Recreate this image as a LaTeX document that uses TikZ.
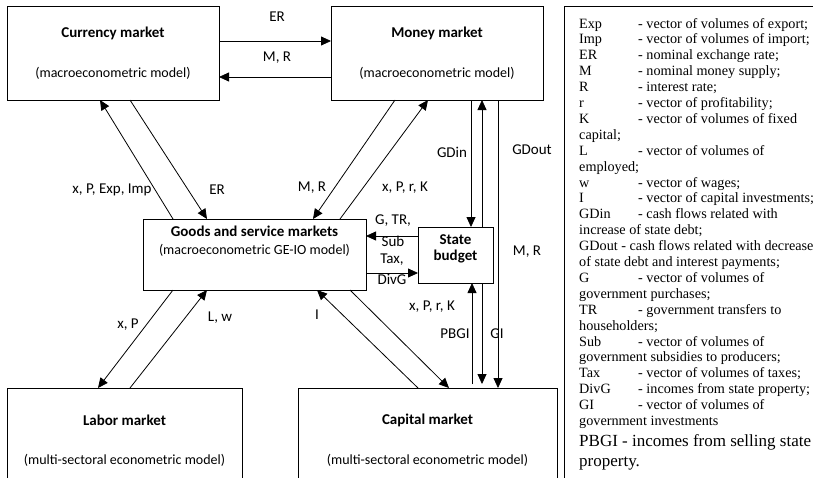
\documentclass[tikz,border=0pt]{standalone}
\usepackage{fontspec}
\setmainfont{Carlito}
\newfontfamily\legfont{Liberation Serif}
\usetikzlibrary{arrows.meta,calc}
\begin{document}
\begin{tikzpicture}[x=1pt,y=-1pt,
 box/.style={draw, line width=1pt, inner sep=0pt, outer sep=0pt},
 conn/.style={line width=0.8pt},
 arr/.style={conn, -{Triangle[length=10pt,width=9pt]}},
 lbl/.style={font=\fontsize{15}{17}\selectfont, inner sep=0pt},
 ttl/.style={font=\fontsize{15}{17}\selectfont\bfseries, inner sep=0pt},
 subt/.style={font=\fontsize{14}{16}\selectfont, inner sep=0pt},
 leg/.style={font=\legfont\fontsize{14.2}{16}\selectfont, inner sep=0pt, anchor=base west},
 legbig/.style={font=\legfont\fontsize{17}{19}\selectfont, inner sep=0pt, anchor=base west},
]
\useasboundingbox (0,0) rectangle (813,477);
\clip (0,0) rectangle (813,477);

% boxes
\node[box, minimum width=212pt, minimum height=94pt] (cur) at (113,53) {};
\node[box, minimum width=212pt, minimum height=94pt] (mon) at (437,53) {};
\node[box, minimum width=223pt, minimum height=71pt] (goods) at (254.5,254.5) {};
\node[box, minimum width=75pt, minimum height=56pt] (state) at (455.5,255) {};
\node[box, minimum width=235pt, minimum height=112pt] (labor) at (124.5,444) {};
\node[box, minimum width=259pt, minimum height=112pt] (cap) at (427.5,444) {};
\node[draw, line width=0.8pt, minimum width=260pt, minimum height=480pt, inner sep=0pt, outer sep=0pt] (legbox) at (694,246) {};

% box texts
\node[ttl] (curT) at (113,33) {Currency market};
\node[subt] (curS) at (113,73) {(macroeconometric model)};
\node[ttl] (monT) at (437,33) {Money market};
\node[subt] (monS) at (437,73) {(macroeconometric model)};
\node[ttl] (goodsT) at (254.5,231) {Goods and service markets};
\node[subt] (goodsS) at (254.5,250) {(macroeconometric GE-IO model)};
\node[ttl, align=center] (stateT) at (455.5,249) {State\\[-1pt]budget};
\node[ttl] (laborT) at (124.5,420) {Labor market};
\node[subt] (laborS) at (124.5,460) {(multi-sectoral econometric model)};
\node[ttl] (capT) at (427.5,420) {Capital market};
\node[subt] (capS) at (427.5,460) {(multi-sectoral econometric model)};

% top row connectors
\draw[arr] ([yshift=-35pt]cur.north east) -- ([yshift=-35pt]mon.north west);
\draw[arr] ([yshift=-71pt]mon.north west) -- ([yshift=-71pt]cur.north east);
\node[lbl] (l1) at (277,17) {ER};
\node[lbl] (l2) at (277,58) {M, R};

% currency <-> goods
\draw[arr] ([xshift=30pt]goods.north west) -- ([xshift=93pt]cur.south west);
\draw[arr] ([xshift=123pt]cur.south west) -- ([xshift=64pt]goods.north west);
\node[lbl] (l3) at (112,190) {x, P, Exp, Imp};
\node[lbl] (l4) at (217,190) {ER};

% money <-> goods
\draw[arr] ([xshift=64pt]mon.south west) -- ([xshift=170pt]goods.north west);
\draw[arr] ([xshift=197pt]goods.north west) -- ([xshift=97pt]mon.south west);
\node[lbl] (l5) at (312,188) {M, R};
\node[lbl] (l6) at (405,188) {x, P, r, K};

% money <-> state, money -> capital
\draw[arr] ([xshift=140pt]mon.south west) -- ([xshift=53pt]state.north west);
\draw[arr] ([xshift=64pt]state.north west) -- ([xshift=151pt]mon.south west);
\draw[arr] ([xshift=167pt]mon.south west) -- ([xshift=200pt]cap.north west);
\node[lbl] (l7) at (452,152) {GDin};
\node[lbl] (l8) at (532,150) {GDout};
\node[lbl] (l9) at (527,252) {M, R};

% state <-> capital
\draw[arr] ([xshift=174pt,yshift=4pt]cap.north west) -- ([xshift=54pt]state.south west);
\draw[arr] ([xshift=64pt]state.south west) -- ([xshift=184pt,yshift=4pt]cap.north west);
\node[lbl] (l10) at (455,334) {PBGI};
\node[lbl] (l11) at (497,334) {GI};

% goods <-> state
\draw[arr] ([yshift=-9pt]state.north west) -- ([yshift=-17pt]goods.north east);
\draw[arr] ([yshift=-54pt]goods.north east) -- ([yshift=-46pt]state.north west);
\node[lbl] (l12) at (393,221) {G, TR,};
\node[lbl] (l13) at (393,241) {Sub};
\node[lbl] (l14) at (392,260) {Tax,};
\node[lbl] (l15) at (392,279) {DivG};

% goods <-> labor
\draw[arr] ([xshift=30pt]goods.south west) -- ([xshift=91pt]labor.north west);
\draw[arr] ([xshift=123pt]labor.north west) -- ([xshift=64pt]goods.south west);
\node[lbl] (l16) at (128,325) {x, P};
\node[lbl] (l17) at (220,318) {L, w};

% goods <-> capital
\draw[arr] ([xshift=120pt]cap.north west) -- ([xshift=174pt]goods.south west);
\draw[arr] ([xshift=207pt]goods.south west) -- ([xshift=151pt]cap.north west);
\node[lbl] (l18) at (317,315) {I};
\node[lbl] (l19) at (432,307) {x, P, r, K};

% legend
\foreach \i/\a/\b in {1/Exp/{- vector of volumes of export;},
  2/Imp/{- vector of volumes of import;},
  3/ER/{- nominal exchange rate;},
  4/M/{- nominal money supply;},
  5/R/{- interest rate;},
  6/r/{- vector of profitability;},
  7/K/{- vector of volumes of fixed},
  9/L/{- vector of volumes of},
  11/w/{- vector of wages;},
  12/I/{- vector of capital investments;},
  13/GDin/{- cash flows related with},
  17/G/{- vector of volumes of},
  19/TR/{- government transfers to},
  21/Sub/{- vector of volumes of},
  23/Tax/{- vector of volumes of taxes;},
  24/DivG/{- incomes from state property;},
  25/GI/{- vector of volumes of}}{
  \node[leg] (lega\i) at (579,{28+(\i-1)*15.9}) {\a};
  \node[leg] (legb\i) at (638,{28+(\i-1)*15.9}) {\b};
}
\foreach \i/\a in {8/{capital;},
  10/{employed;},
  14/{increase of state debt;},
  15/{GDout - cash flows related with decrease},
  16/{of state debt and interest payments;},
  18/{government purchases;},
  20/{householders;},
  22/{government subsidies to producers;},
  26/{government investments}}{
  \node[leg] (legc\i) at (579,{28+(\i-1)*15.9}) {\a};
}
\node[legbig] (lega27) at (579,446) {PBGI};
\node[legbig] (legb27) at (622,446) {- incomes from selling state};
\node[legbig] (legc28) at (579,466) {property.};
\end{tikzpicture}
\end{document}
